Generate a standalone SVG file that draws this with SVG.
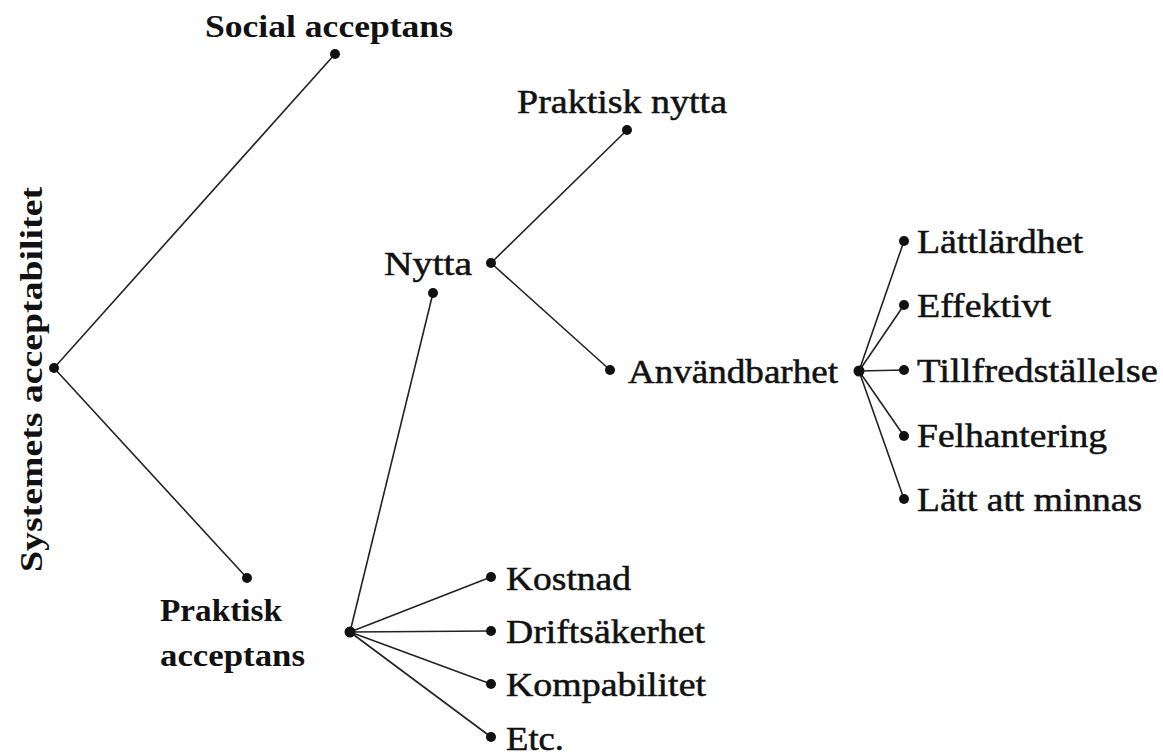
<svg xmlns="http://www.w3.org/2000/svg" width="1163" height="756" viewBox="0 0 1163 756">
<style>
text{font-family:'Liberation Serif',serif;fill:#111}
.t{font-size:33px;stroke:#111;stroke-width:0.5}
.b{font-size:32px;font-weight:bold}
.c line{stroke:#222;stroke-width:1.6}
.d{fill:#111}
</style>
<rect width="1163" height="756" fill="#fff"/>
<g class="c" id="connectors">
<line x1="54" y1="368" x2="335" y2="54"/>
<line x1="54" y1="368" x2="247" y2="578"/>
<line x1="350" y1="632" x2="433" y2="293"/>
<line x1="350" y1="632" x2="491" y2="577"/>
<line x1="350" y1="632" x2="491" y2="631"/>
<line x1="350" y1="632" x2="491" y2="684"/>
<line x1="350" y1="632" x2="491" y2="737"/>
<line x1="491" y1="263" x2="627" y2="130"/>
<line x1="491" y1="263" x2="610" y2="370"/>
<line x1="859" y1="371" x2="904" y2="241"/>
<line x1="859" y1="371" x2="904" y2="305"/>
<line x1="859" y1="371" x2="904" y2="370"/>
<line x1="859" y1="371" x2="904" y2="436"/>
<line x1="859" y1="371" x2="904" y2="499"/>
</g>
<g id="root"><circle class="d" cx="54" cy="368" r="5"/><text class="b" transform="translate(42,572) rotate(-90)" font-size="34" textLength="385" lengthAdjust="spacingAndGlyphs">Systemets acceptabilitet</text></g>
<g id="social"><circle class="d" cx="335" cy="54" r="5"/><text class="b" x="205" y="37" textLength="248" lengthAdjust="spacingAndGlyphs">Social acceptans</text></g>
<g id="praktisk-acceptans"><circle class="d" cx="247" cy="578" r="5"/><circle class="d" cx="350" cy="632" r="5.5"/><text class="b" x="160" y="621" textLength="122" lengthAdjust="spacingAndGlyphs">Praktisk</text><text class="b" x="160" y="666" textLength="145" lengthAdjust="spacingAndGlyphs">acceptans</text></g>
<g id="nytta"><circle class="d" cx="433" cy="293" r="5"/><circle class="d" cx="491" cy="263" r="5"/><text class="t" x="384" y="275" textLength="88" lengthAdjust="spacingAndGlyphs">Nytta</text></g>
<g id="praktisk-nytta"><circle class="d" cx="627" cy="130" r="5"/><text class="t" x="517" y="113" textLength="210" lengthAdjust="spacingAndGlyphs">Praktisk nytta</text></g>
<g id="anvandbarhet"><circle class="d" cx="610" cy="370" r="5"/><circle class="d" cx="859" cy="371" r="5.5"/><text class="t" x="628" y="383" textLength="210" lengthAdjust="spacingAndGlyphs">Användbarhet</text></g>
<g id="lattlardhet"><circle class="d" cx="904" cy="241" r="5"/><text class="t" x="917" y="253" textLength="166" lengthAdjust="spacingAndGlyphs">Lättlärdhet</text></g>
<g id="effektivt"><circle class="d" cx="904" cy="305" r="5"/><text class="t" x="917" y="317" textLength="134" lengthAdjust="spacingAndGlyphs">Effektivt</text></g>
<g id="tillfredstallelse"><circle class="d" cx="904" cy="370" r="5"/><text class="t" x="917" y="382" textLength="241" lengthAdjust="spacingAndGlyphs">Tillfredställelse</text></g>
<g id="felhantering"><circle class="d" cx="904" cy="436" r="5"/><text class="t" x="917" y="447" textLength="190" lengthAdjust="spacingAndGlyphs">Felhantering</text></g>
<g id="latt-att-minnas"><circle class="d" cx="904" cy="499" r="5"/><text class="t" x="917" y="511" textLength="225" lengthAdjust="spacingAndGlyphs">Lätt att minnas</text></g>
<g id="kostnad"><circle class="d" cx="491" cy="577" r="5"/><text class="t" x="506" y="590" textLength="125" lengthAdjust="spacingAndGlyphs">Kostnad</text></g>
<g id="driftsakerhet"><circle class="d" cx="491" cy="631" r="5"/><text class="t" x="506" y="643" textLength="199" lengthAdjust="spacingAndGlyphs">Driftsäkerhet</text></g>
<g id="kompabilitet"><circle class="d" cx="491" cy="684" r="5"/><text class="t" x="506" y="696" textLength="200" lengthAdjust="spacingAndGlyphs">Kompabilitet</text></g>
<g id="etc"><circle class="d" cx="491" cy="737" r="5"/><text class="t" x="506" y="750" textLength="58" lengthAdjust="spacingAndGlyphs">Etc.</text></g>
</svg>
